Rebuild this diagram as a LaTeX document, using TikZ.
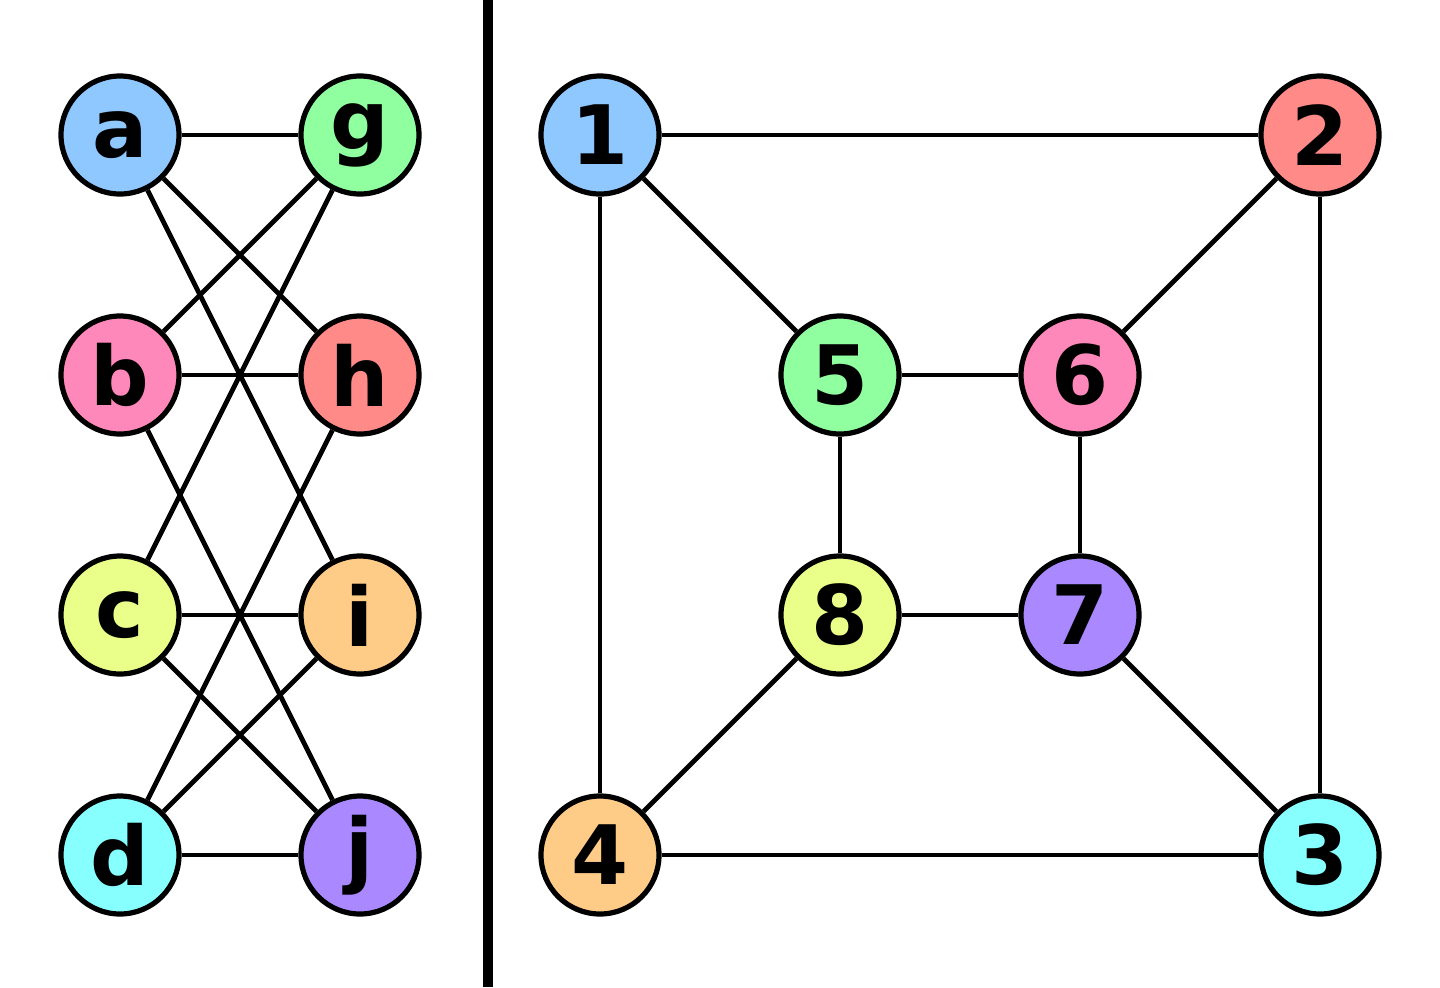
\documentclass[tikz,border=0pt]{standalone}
\usepackage{fontspec}
\setmainfont{DejaVu Sans}
\definecolor{cblue}{RGB}{143,199,255}
\definecolor{cgreen}{RGB}{144,255,160}
\definecolor{cred}{RGB}{255,138,136}
\definecolor{cpink}{RGB}{255,136,187}
\definecolor{cyel}{RGB}{234,255,138}
\definecolor{corange}{RGB}{255,204,136}
\definecolor{ccyan}{RGB}{136,255,255}
\definecolor{cpurple}{RGB}{170,136,255}
\begin{document}
\begin{tikzpicture}[x=0.5pt,y=-0.5pt,
  vert/.style={circle,draw=black,line width=2.6pt,minimum size=59pt,inner sep=0pt,
    font=\fontsize{41}{43}\selectfont\bfseries},
  edge/.style={line width=2.4pt,black}]
\useasboundingbox (0,0) rectangle (1440,987);
% left graph
\node[vert,fill=cblue] (a) at (120,135) {a};
\node[vert,fill=cpink] (b) at (120,375) {b};
\node[vert,fill=cyel] (c) at (120,615) {c};
\node[vert,fill=ccyan] (d) at (120,855) {d};
\node[vert,fill=cgreen] (g) at (360,135) {g};
\node[vert,fill=cred] (h) at (360,375) {h};
\node[vert,fill=corange] (i) at (360,615) {i};
\node[vert,fill=cpurple] (j) at (360,855) {j};
% right graph
\node[vert,fill=cblue] (n1) at (600,135) {1};
\node[vert,fill=cred] (n2) at (1320,135) {2};
\node[vert,fill=ccyan] (n3) at (1320,855) {3};
\node[vert,fill=corange] (n4) at (600,855) {4};
\node[vert,fill=cgreen] (n5) at (840,375) {5};
\node[vert,fill=cpink] (n6) at (1080,375) {6};
\node[vert,fill=cpurple] (n7) at (1080,615) {7};
\node[vert,fill=cyel] (n8) at (840,615) {8};
% left edges
\draw[edge] (a) -- (g);
\draw[edge] (a) -- (h);
\draw[edge] (a) -- (i);
\draw[edge] (b) -- (g);
\draw[edge] (b) -- (h);
\draw[edge] (b) -- (j);
\draw[edge] (c) -- (g);
\draw[edge] (c) -- (i);
\draw[edge] (c) -- (j);
\draw[edge] (d) -- (h);
\draw[edge] (d) -- (i);
\draw[edge] (d) -- (j);
% right edges
\draw[edge] (n1) -- (n2);
\draw[edge] (n1) -- (n4);
\draw[edge] (n1) -- (n5);
\draw[edge] (n2) -- (n3);
\draw[edge] (n2) -- (n6);
\draw[edge] (n3) -- (n4);
\draw[edge] (n3) -- (n7);
\draw[edge] (n4) -- (n8);
\draw[edge] (n5) -- (n6);
\draw[edge] (n5) -- (n8);
\draw[edge] (n6) -- (n7);
\draw[edge] (n7) -- (n8);
% separator
\coordinate (top) at (488,0);
\coordinate (bot) at (488,987);
\draw[line width=5pt] (top) -- (bot);
\end{tikzpicture}
\end{document}
